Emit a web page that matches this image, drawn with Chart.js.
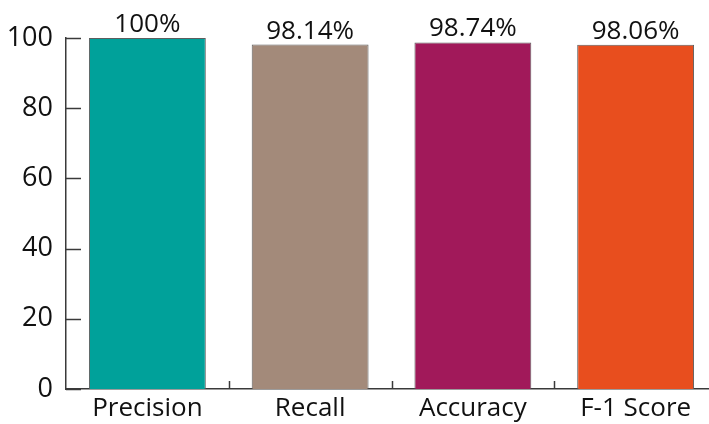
<!DOCTYPE html>
<html>
<head>
<meta charset="utf-8">
<script src="https://cdn.jsdelivr.net/npm/chart.js@4.4.1/dist/chart.umd.min.js"></script>
<style>
  html, body { margin: 0; padding: 0; background: #fff; overflow: hidden; }
  #wrap { width: 720px; height: 424px; }
</style>
</head>
<body>
<div id="wrap"><canvas id="chart" width="720" height="424"></canvas></div>
<script>
// ========== DATA ==========
const categories = ["Precision", "Recall", "Accuracy", "F-1 Score"];
const scores = [100, 98.14, 98.74, 98.06];
const scoreLabels = ["100%", "98.14%", "98.74%", "98.06%"];
const barColors = ["#00a19a", "#a38a7a", "#a1195a", "#e84e1e"];
const yTicks = [0, 20, 40, 60, 80, 100];

const FONT = "'Open Sans', sans-serif";
const AXIS_COLOR = "#3a3a3a";

// ========== CUSTOM DRAWING ==========
// inward tick marks + value labels above the bars
const extrasPlugin = {
  id: "extras",
  afterDatasetsDraw(chart) {
    const { ctx, scales } = chart;
    const x = scales.x;
    const y = scales.y;
    ctx.save();
    ctx.strokeStyle = AXIS_COLOR;
    ctx.lineWidth = 1.5;

    yTicks.forEach((v) => {
      const py = Math.round(y.getPixelForValue(v)) + 0.5;
      ctx.beginPath();
      ctx.moveTo(x.left, py);
      ctx.lineTo(x.left + 15, py);
      ctx.stroke();
    });

    for (let i = 0; i < categories.length - 1; i++) {
      const px = Math.round((x.getPixelForValue(i) + x.getPixelForValue(i + 1)) / 2) + 0.5;
      ctx.beginPath();
      ctx.moveTo(px, y.bottom);
      ctx.lineTo(px, y.bottom - 8);
      ctx.stroke();
    }

    ctx.fillStyle = "#111";
    ctx.font = "26px " + FONT;
    ctx.textAlign = "center";
    ctx.textBaseline = "alphabetic";
    const meta = chart.getDatasetMeta(0);
    meta.data.forEach((bar, i) => {
      ctx.fillText(scoreLabels[i], bar.x, bar.y - 6);
    });
    ctx.restore();
  },
};

// ========== CHART ==========
new Chart(document.getElementById("chart"), {
  type: "bar",
  data: {
    labels: categories,
    datasets: [
      {
        data: scores,
        backgroundColor: barColors,
        borderColor: "#5e5e5e",
        borderWidth: 1,
        barPercentage: 0.718,
        categoryPercentage: 1,
      },
    ],
  },
  options: {
    responsive: false,
    animation: false,
    layout: { padding: { top: 38, right: 3, left: 0, bottom: 0 } },
    plugins: { legend: { display: false }, tooltip: { enabled: false } },
    scales: {
      x: {
        grid: { display: false, drawTicks: false },
        border: { display: true, color: AXIS_COLOR, width: 1.5 },
        ticks: { color: "#111", font: { family: FONT, size: 26 }, padding: 4, maxRotation: 0 },
        afterFit: (s) => { s.height = 35; },
      },
      y: {
        min: 0,
        max: 100,
        grid: { display: false, drawTicks: false },
        border: { display: true, color: AXIS_COLOR, width: 1.5 },
        ticks: { stepSize: 20, color: "#111", font: { family: FONT, size: 27 }, padding: 13 },
        afterFit: (s) => { s.width = 66; },
      },
    },
  },
  plugins: [extrasPlugin],
});
</script>
</body>
</html>
